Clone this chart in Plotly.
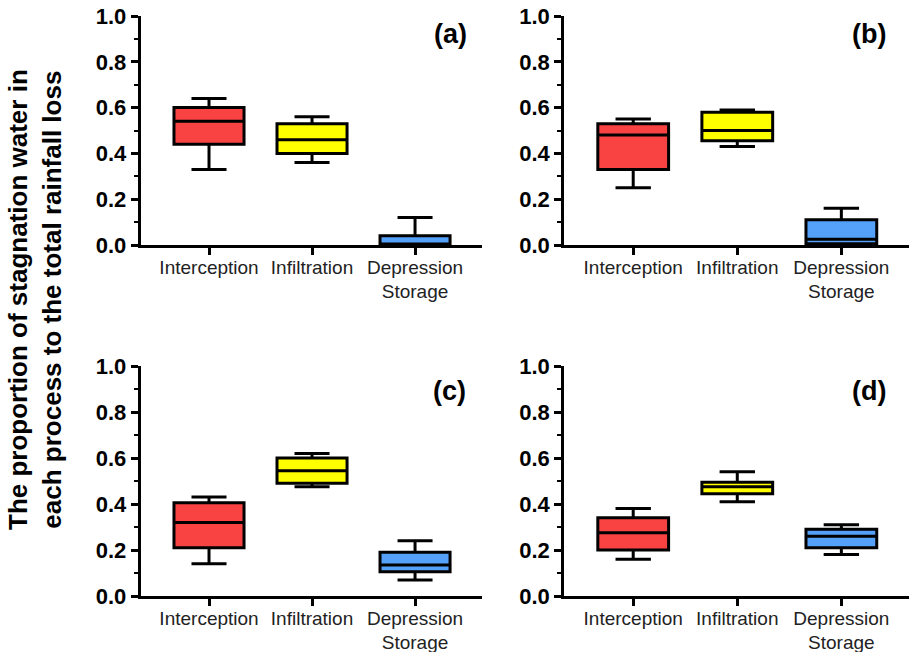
import plotly.graph_objects as go

categories = ["Interception", "Infiltration", "Depression<br>Storage"]
panel_labels = ["(a)", "(b)", "(c)", "(d)"]
colors = ["#F94343", "#FFFF00", "#55A0F8"]

# per panel: [lower whisker, Q1, median, Q3, upper whisker] for each category
panel_a = [[0.33, 0.44, 0.54, 0.60, 0.64],
           [0.36, 0.40, 0.46, 0.53, 0.56],
           [0.00, 0.00, 0.002, 0.04, 0.12]]
panel_b = [[0.25, 0.33, 0.48, 0.53, 0.55],
           [0.43, 0.455, 0.50, 0.58, 0.59],
           [0.00, 0.005, 0.025, 0.11, 0.16]]
panel_c = [[0.14, 0.21, 0.32, 0.405, 0.43],
           [0.475, 0.49, 0.545, 0.60, 0.62],
           [0.07, 0.105, 0.135, 0.19, 0.24]]
panel_d = [[0.16, 0.20, 0.275, 0.34, 0.38],
           [0.41, 0.445, 0.475, 0.495, 0.54],
           [0.18, 0.21, 0.26, 0.29, 0.31]]
panels = [panel_a, panel_b, panel_c, panel_d]

y_ticks = [0.0, 0.2, 0.4, 0.6, 0.8, 1.0]
y_title = "The proportion of stagnation water in<br>each process to the total rainfall loss"

W, H = 910, 652
# pixel boxes of the four plot areas: (x0, x1, ytop, ybottom)
boxes_px = [(140.5, 482, 16, 245), (564, 909, 16, 245),
            (140.5, 482, 366, 596), (564, 909, 366, 596)]
label_px = [(450, 34.5), (869, 34.5), (449, 390.5), (869, 390.5)]

fig = go.Figure()
for i, (pdata, (x0, x1, yt, yb)) in enumerate(zip(panels, boxes_px)):
    ax = "" if i == 0 else str(i + 1)
    for j, cat in enumerate(categories):
        lo, q1, med, q3, hi = pdata[j]
        fig.add_trace(go.Box(
            x=[cat], q1=[q1], median=[med], q3=[q3],
            lowerfence=[lo], upperfence=[hi],
            xaxis="x" + ax, yaxis="y" + ax,
            fillcolor=colors[j], line=dict(color="black", width=3),
            width=0.68, whiskerwidth=0.5, boxpoints=False,
            showlegend=False, hoverinfo="skip"))
    fig.layout["xaxis" + ax] = dict(
        domain=[x0 / W, x1 / W], anchor="y" + ax, automargin=False,
        type="category", categoryorder="array", categoryarray=categories,
        range=[-0.665, 2.65], showline=True, linecolor="black", linewidth=2.5,
        ticks="outside", ticklen=7, tickwidth=2.5, tickcolor="black",
        ticklabelstandoff=-4,
        showgrid=False, zeroline=False,
        tickfont=dict(family="Liberation Sans, Arial", size=19, color="#222"))
    fig.layout["yaxis" + ax] = dict(
        domain=[1 - yb / H, 1 - yt / H], anchor="x" + ax, automargin=False,
        range=[0, 1.0], tickvals=y_ticks, ticktext=[f"{v:.1f}" for v in y_ticks],
        showline=True, linecolor="black", linewidth=2.5,
        ticks="outside", ticklen=7, tickwidth=2.5, tickcolor="black",
        minor=dict(dtick=0.1, tick0=0, ticks="outside", ticklen=4, tickwidth=2, tickcolor="black"),
        showgrid=False, zeroline=False,
        tickfont=dict(family="Liberation Sans, Arial", size=22, color="black", weight="bold"))
    lx, ly = label_px[i]
    fig.add_annotation(text="<b>" + panel_labels[i] + "</b>",
                       x=lx / W, y=1 - ly / H, xref="paper", yref="paper",
                       showarrow=False, xanchor="center", yanchor="middle",
                       font=dict(family="Liberation Sans, Arial", size=27, color="black"))

fig.add_annotation(text="<b>" + y_title + "</b>", textangle=-90,
                   x=35 / W, y=1 - 300 / H, xref="paper", yref="paper",
                   showarrow=False, xanchor="center", yanchor="middle",
                   font=dict(family="Liberation Sans, Arial", size=26, color="black"))

fig.update_layout(width=W, height=H, margin=dict(l=0, r=0, t=0, b=0, pad=0),
                  paper_bgcolor="white", plot_bgcolor="white", boxmode="overlay")
fig.write_html("out.html", config={"displayModeBar": False},
               post_script="document.body.style.margin='0';document.body.style.overflow='hidden';")
